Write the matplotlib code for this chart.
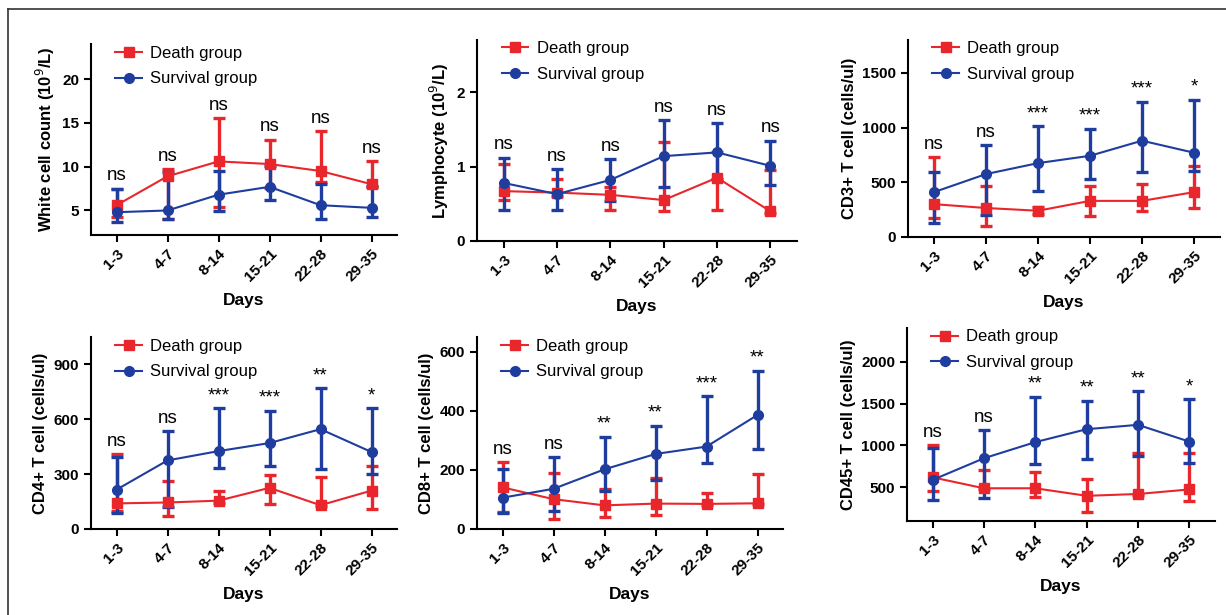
import matplotlib.pyplot as plt
from matplotlib.lines import Line2D

plt.rcParams['font.family'] = ['Liberation Sans', 'DejaVu Sans']

days = ['1-3', '4-7', '8-14', '15-21', '22-28', '29-35']
x = range(len(days))

# each panel: y label, limits, ticks, death (mid, low, high), survival (mid, low, high), significance
wbc_death = [5.6, 8.9, 10.6, 10.3, 9.5, 8.0]
wbc_death_lo = [4.3, 4.0, 5.4, 7.6, 8.2, 7.7]
wbc_death_hi = [7.5, 9.7, 15.5, 13.1, 14.1, 10.6]
wbc_surv = [4.8, 5.0, 6.8, 7.7, 5.6, 5.3]
wbc_surv_lo = [3.7, 4.0, 4.9, 6.2, 4.0, 4.2]
wbc_surv_hi = [7.4, 9.4, 9.5, 10.1, 8.0, 7.8]
wbc_sig = ['ns', 'ns', 'ns', 'ns', 'ns', 'ns']

lym_death = [0.67, 0.65, 0.62, 0.55, 0.85, 0.40]
lym_death_lo = [0.55, 0.60, 0.42, 0.40, 0.41, 0.38]
lym_death_hi = [1.03, 0.83, 0.73, 1.33, 1.20, 0.96]
lym_surv = [0.78, 0.63, 0.82, 1.14, 1.19, 1.01]
lym_surv_lo = [0.41, 0.42, 0.54, 0.72, 0.83, 0.75]
lym_surv_hi = [1.12, 0.97, 1.10, 1.62, 1.58, 1.35]
lym_sig = ['ns', 'ns', 'ns', 'ns', 'ns', 'ns']

cd3_death = [300, 265, 240, 330, 330, 410]
cd3_death_lo = [175, 100, 210, 190, 240, 265]
cd3_death_hi = [730, 470, 270, 470, 480, 650]
cd3_surv = [410, 575, 675, 742, 880, 770]
cd3_surv_lo = [130, 200, 420, 530, 598, 605]
cd3_surv_hi = [590, 842, 1010, 988, 1235, 1252]
cd3_sig = ['ns', 'ns', '***', '***', '***', '*']

cd4_death = [140, 145, 155, 225, 130, 210]
cd4_death_lo = [100, 70, 140, 135, 125, 107]
cd4_death_hi = [410, 265, 208, 297, 285, 345]
cd4_surv = [215, 375, 426, 470, 546, 421]
cd4_surv_lo = [89, 118, 335, 342, 326, 301]
cd4_surv_hi = [396, 536, 659, 647, 770, 659]
cd4_sig = ['ns', 'ns', '***', '***', '**', '*']

cd8_death = [141, 101, 80, 86, 85, 87]
cd8_death_lo = [58, 34, 40, 49, 80, 85]
cd8_death_hi = [226, 190, 134, 171, 122, 186]
cd8_surv = [106, 136, 202, 254, 279, 386]
cd8_surv_lo = [54, 60, 127, 167, 225, 272]
cd8_surv_hi = [202, 243, 311, 350, 449, 536]
cd8_sig = ['ns', 'ns', '**', '**', '***', '**']

cd45_death = [620, 490, 490, 400, 422, 476]
cd45_death_lo = [452, 480, 390, 203, 410, 340]
cd45_death_hi = [1005, 713, 682, 602, 916, 906]
cd45_surv = [590, 848, 1040, 1194, 1246, 1046]
cd45_surv_lo = [352, 372, 776, 842, 870, 790]
cd45_surv_hi = [968, 1182, 1577, 1532, 1645, 1550]
cd45_sig = ['ns', 'ns', '**', '**', '**', '*']

panels = [
    ('White cell count (10$^{9}$/L)', (2.2, 24), [5, 10, 15, 20],
     (wbc_death, wbc_death_lo, wbc_death_hi), (wbc_surv, wbc_surv_lo, wbc_surv_hi), wbc_sig),
    ('Lymphocyte (10$^{9}$/L)', (0, 2.7), [0, 1, 2],
     (lym_death, lym_death_lo, lym_death_hi), (lym_surv, lym_surv_lo, lym_surv_hi), lym_sig),
    ('CD3+ T cell (cells/ul)', (0, 1800), [0, 500, 1000, 1500],
     (cd3_death, cd3_death_lo, cd3_death_hi), (cd3_surv, cd3_surv_lo, cd3_surv_hi), cd3_sig),
    ('CD4+ T cell (cells/ul)', (0, 1050), [0, 300, 600, 900],
     (cd4_death, cd4_death_lo, cd4_death_hi), (cd4_surv, cd4_surv_lo, cd4_surv_hi), cd4_sig),
    ('CD8+ T cell (cells/ul)', (0, 650), [0, 200, 400, 600],
     (cd8_death, cd8_death_lo, cd8_death_hi), (cd8_surv, cd8_surv_lo, cd8_surv_hi), cd8_sig),
    ('CD45+ T cell (cells/ul)', (100, 2400), [500, 1000, 1500, 2000],
     (cd45_death, cd45_death_lo, cd45_death_hi), (cd45_surv, cd45_surv_lo, cd45_surv_hi), cd45_sig),
]

# axes boxes in pixels: left, top, right, bottom
boxes = [(91, 44, 397, 235), (477, 40, 797, 241), (908, 40, 1220, 237),
         (91, 337, 397, 529), (477, 337, 783, 529), (907, 328, 1215, 521)]

red = '#e8262c'
blue = '#1f3d9e'
W, H = 1226, 615

fig = plt.figure(figsize=(W / 100, H / 100), dpi=100)

# frame line on left and top
fig.add_artist(Line2D([8 / W, 8 / W], [0, 1 - 9 / H], color='#333333', lw=1.2))
fig.add_artist(Line2D([8 / W, 1], [1 - 9 / H, 1 - 9 / H], color='#333333', lw=1.2))

for (ylab, ylim, yticks, death, surv, sig), (l, t, r, b) in zip(panels, boxes):
    ax = fig.add_axes([l / W, 1 - b / H, (r - l) / W, (b - t) / H])
    handles = []
    for vals, col, mk, lab in [(death, red, 's', 'Death group'), (surv, blue, 'o', 'Survival group')]:
        mid, lo, hi = vals
        err = [[m - a for m, a in zip(mid, lo)], [h - m for m, h in zip(mid, hi)]]
        ax.errorbar(x, mid, yerr=err, color=col, marker=mk, markersize=7, lw=1.5,
                    elinewidth=2.4, capsize=4.5, capthick=2.4)
        handles.append(Line2D([], [], color=col, marker=mk, markersize=7, lw=1.5, label=lab))
    for i, s in enumerate(sig):
        top = max(death[2][i], surv[2][i])
        ax.annotate(s, (i, top), xytext=(0, 3), textcoords='offset points',
                    ha='center', va='bottom', fontsize=13.5)
    ax.set_xlim(-0.5, len(days) - 0.5)
    ax.set_ylim(*ylim)
    ax.set_yticks(yticks)
    ax.set_xticks(list(x))
    ax.set_xticklabels(days, rotation=45, ha='right', rotation_mode='anchor')
    for lbl in ax.get_xticklabels() + ax.get_yticklabels():
        lbl.set_fontweight('bold')
        lbl.set_fontsize(11)
    ax.set_ylabel(ylab, fontsize=12, fontweight='bold')
    ax.set_xlabel('Days', fontsize=12.5, fontweight='bold', labelpad=6)
    ax.spines['top'].set_visible(False)
    ax.spines['right'].set_visible(False)
    ax.spines['left'].set_linewidth(1.5)
    ax.spines['bottom'].set_linewidth(1.5)
    ax.tick_params(width=1.5, length=5)
    ax.legend(handles=handles, loc='upper left', bbox_to_anchor=(0.03, 1.07), frameon=False,
              fontsize=12, handlelength=1.6, labelspacing=0.65, handletextpad=0.5)

plt.savefig('out.png', dpi=100)
